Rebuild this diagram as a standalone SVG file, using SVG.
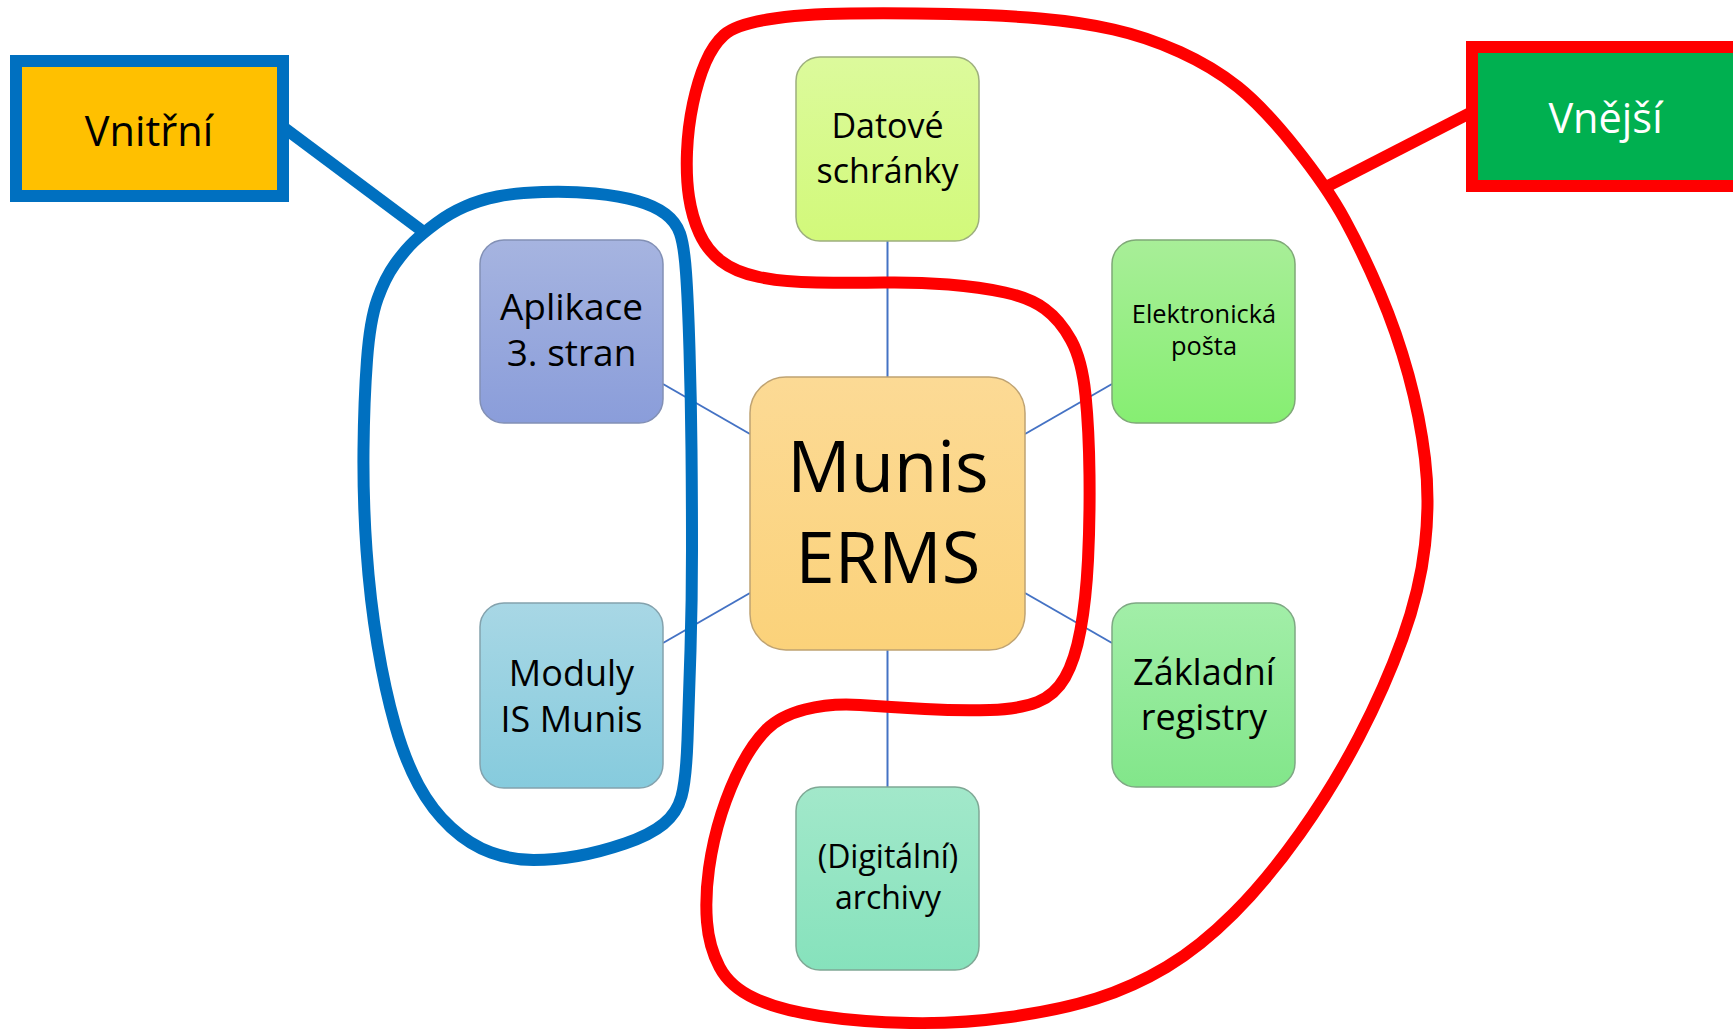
<svg xmlns="http://www.w3.org/2000/svg" width="1733" height="1031" viewBox="0 0 1733 1031">
<defs>
<linearGradient id="gDat" x1="0" y1="0" x2="0" y2="1"><stop offset="0" stop-color="#DCFA9C"/><stop offset="1" stop-color="#D2F97A"/></linearGradient>
<linearGradient id="gEl" x1="0" y1="0" x2="0" y2="1"><stop offset="0" stop-color="#A8EE98"/><stop offset="1" stop-color="#86EE72"/></linearGradient>
<linearGradient id="gZak" x1="0" y1="0" x2="0" y2="1"><stop offset="0" stop-color="#A2EEA8"/><stop offset="1" stop-color="#82E68A"/></linearGradient>
<linearGradient id="gDig" x1="0" y1="0" x2="0" y2="1"><stop offset="0" stop-color="#A2E8CA"/><stop offset="1" stop-color="#86E2BC"/></linearGradient>
<linearGradient id="gMod" x1="0" y1="0" x2="0" y2="1"><stop offset="0" stop-color="#A8D7E5"/><stop offset="1" stop-color="#86CBDD"/></linearGradient>
<linearGradient id="gApl" x1="0" y1="0" x2="0" y2="1"><stop offset="0" stop-color="#A6B4E0"/><stop offset="1" stop-color="#8A9DDA"/></linearGradient>
<linearGradient id="gMun" x1="0" y1="0" x2="0" y2="1"><stop offset="0" stop-color="#FCDA95"/><stop offset="1" stop-color="#FBD27A"/></linearGradient>
</defs>
<style>
.node{stroke-width:1.5}
.t{font-family:"Open Sans","Liberation Sans",sans-serif;text-anchor:middle;fill:#000}
.conn{stroke:#4472C4;stroke-width:2;fill:none}
.lasso{fill:none;stroke-width:12;stroke-linejoin:round;stroke-linecap:round}
</style>
<rect width="1733" height="1031" fill="#FFFFFF"/>
<g id="connectors">
<line class="conn" x1="887.5" y1="241" x2="887.5" y2="377"/>
<line class="conn" x1="887.5" y1="650" x2="887.5" y2="787"/>
<line class="conn" x1="663" y1="384" x2="750" y2="434"/>
<line class="conn" x1="663" y1="643" x2="750" y2="593"/>
<line class="conn" x1="1025" y1="434" x2="1112" y2="384"/>
<line class="conn" x1="1025" y1="593" x2="1112" y2="643"/>
</g>
<g id="node-munis">
<rect class="node" x="750" y="377" width="275" height="273" rx="36" fill="url(#gMun)" stroke="#BFA372"/>
<text class="t" x="888" y="492" font-size="70.5">Munis</text>
<text class="t" x="888" y="583" font-size="70.5">ERMS</text>
</g>
<g id="node-datove">
<rect class="node" x="796" y="57" width="183" height="184" rx="24" fill="url(#gDat)" stroke="#9DAF7E"/>
<text class="t" x="887.5" y="138" font-size="34">Datové</text>
<text class="t" x="887.5" y="183" font-size="34">schránky</text>
</g>
<g id="node-elektronicka">
<rect class="node" x="1112" y="240" width="183" height="183" rx="24" fill="url(#gEl)" stroke="#7FA877"/>
<text class="t" x="1204" y="323" font-size="25.4">Elektronická</text>
<text class="t" x="1204" y="355" font-size="25.4">pošta</text>
</g>
<g id="node-zakladni">
<rect class="node" x="1112" y="603" width="183" height="184" rx="24" fill="url(#gZak)" stroke="#7FA884"/>
<text class="t" x="1204" y="685" font-size="36">Základní</text>
<text class="t" x="1204" y="730" font-size="36">registry</text>
</g>
<g id="node-digitalni">
<rect class="node" x="796" y="787" width="183" height="183" rx="24" fill="url(#gDig)" stroke="#7FA895"/>
<text class="t" x="888" y="868" font-size="32">(Digitální)</text>
<text class="t" x="888" y="909" font-size="32">archivy</text>
</g>
<g id="node-moduly">
<rect class="node" x="480" y="603" width="183" height="185" rx="24" fill="url(#gMod)" stroke="#84A2AD"/>
<text class="t" x="571.5" y="686" font-size="36">Moduly</text>
<text class="t" x="571.5" y="732" font-size="36">IS Munis</text>
</g>
<g id="node-aplikace">
<rect class="node" x="480" y="240" width="183" height="183" rx="24" fill="url(#gApl)" stroke="#8290B5"/>
<text class="t" x="571.5" y="320" font-size="37">Aplikace</text>
<text class="t" x="571.5" y="366" font-size="37">3. stran</text>
</g>
<g id="group-vnitrni">
<line x1="283" y1="127" x2="425" y2="233" stroke="#0070C0" stroke-width="12"/>
<path class="lasso" stroke="#0070C0" d="M436.5,223 Q450,213 465,206.5 T497.5,196.5 T542.5,192 T595,193.5 T637.5,201 T665.5,214 T680,233.5 T686,272.5 T689.5,350 T691.5,450 T692,550 T690.5,650 T687.5,740 T681.5,796.5 T663.5,824 T625,843.5 T577.5,856 T533.5,860 T491,852.5 T451,827.5 T418.5,785 T395,725 T377.5,645 T366.5,550 T363.5,450 T367,360 T377.5,299 T395,264 T414,241.5 T436.5,223 Z"/>
<rect x="16" y="61" width="267" height="135" fill="#FFC000" stroke="#0070C0" stroke-width="12"/>
<text class="t" x="149" y="146" font-size="41.5">Vnitřní</text>
</g>
<g id="group-vnejsi">
<line x1="1324" y1="188" x2="1472" y2="112" stroke="#FF0000" stroke-width="12"/>
<path class="lasso" stroke="#FF0000" d="M850,13.5 Q900,13 950,14 T1040,18.5 T1113.5,29.5 T1180,52 T1238,87 T1295,147 T1345,220 T1380,293 T1408.5,375 T1425,458.5 T1425,545 T1402.5,638.5 T1359,737 T1300,833.5 T1233.5,913.5 T1166.5,967 T1096.5,998.5 T1010,1017 T910,1023 T820,1016 T755,998.5 T719.5,967 T707,922 T709,868.5 T721.5,813.5 T741.5,765 T766.5,729.5 T805,709.5 T860,705 T925,709 T990,710 T1037.5,702 T1065,677.5 T1080.5,630 T1088,560 T1089.5,475 T1085.5,395 T1071,340 T1045,309 T1005,292.5 T948.5,284.5 T883.5,282.5 T816.5,282.5 T759,277 T721,261 T699.5,233.5 T689,197 T687,152 T693,103.5 T705.5,62.5 T724,35 T767.5,19.5 T850,13.5 Z"/>
<rect x="1472" y="47" width="300" height="139" fill="#00B050" stroke="#FF0000" stroke-width="12"/>
<text class="t" x="1605.5" y="133" font-size="41.5" style="fill:#FFFFFF">Vnější</text>
</g>
</svg>
